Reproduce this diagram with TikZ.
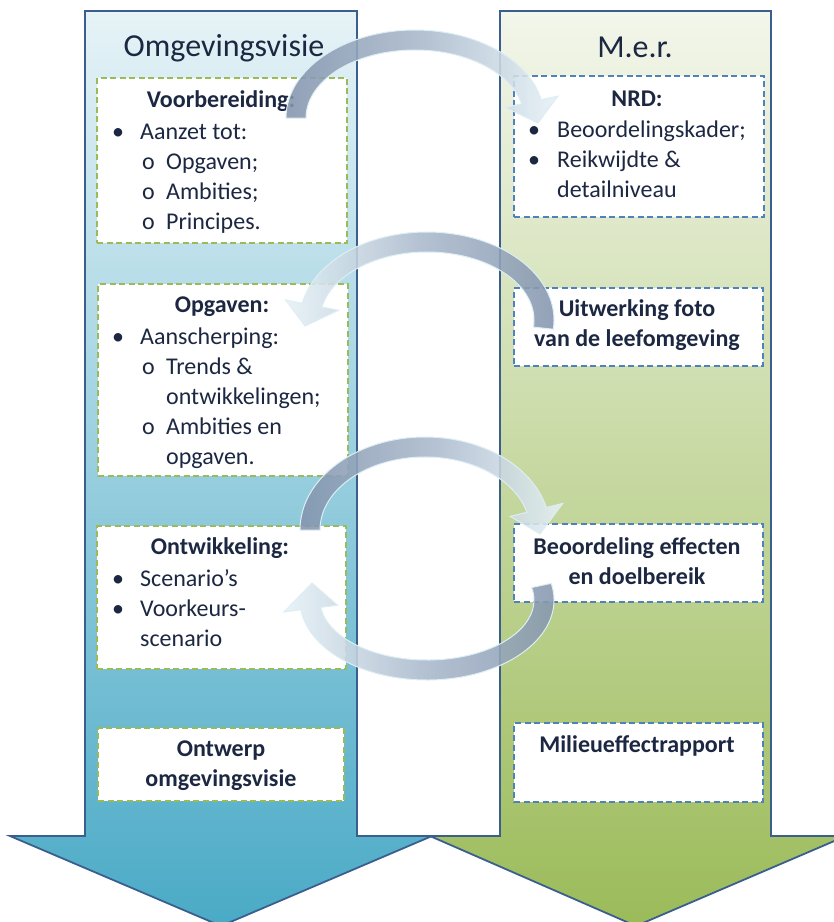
\documentclass[tikz,border=0pt]{standalone}
\usepackage{fontspec}
\setmainfont{Carlito}
\usetikzlibrary{calc}

\definecolor{tekst}{HTML}{1C2742}
\definecolor{rand}{HTML}{3A5F8E}
\definecolor{groenrand}{HTML}{9BBB59}
\definecolor{blauwrand}{HTML}{4F81BD}
\definecolor{blauwboven}{HTML}{E6F3F7}
\definecolor{blauwonder}{HTML}{4AAAC6}
\definecolor{groenboven}{HTML}{F3F6EB}
\definecolor{groenonder}{HTML}{9BBB59}
\definecolor{pijldonker}{HTML}{8394AD}
\definecolor{pijlmidden}{HTML}{A9B8CB}
\definecolor{pijllicht}{HTML}{E6F2F7}
\definecolor{pijlrand}{HTML}{DDEEF4}

\newcommand\bol{\makebox[28pt][l]{\textbullet}}
\newcommand\rondje{\hspace*{30pt}\makebox[24pt][l]{o}}

\tikzset{
  hoofdpijl/.style={draw=rand, line width=1.8pt, line join=miter},
  kader/.style={draw, fill=white, line width=2.2pt,
    dash pattern=on 6pt off 3.5pt, inner sep=0pt, anchor=north west},
  groenkader/.style={kader, draw=groenrand},
  blauwkader/.style={kader, draw=blauwrand},
  titel/.style={font=\fontsize{32}{38}\selectfont, text=tekst,
    inner sep=0pt, anchor=base},
  kop/.style={font=\fontsize{24}{30}\selectfont\bfseries, text=tekst,
    inner sep=0pt, anchor=base},
  kopblok/.style={kop, align=center, anchor=north,
    execute at begin node=\strut},
  lijst/.style={font=\fontsize{24}{30}\selectfont, text=tekst,
    align=left, inner sep=0pt, anchor=north west,
    execute at begin node=\strut},
  boog/.style={draw=pijlrand, line width=1pt, fill opacity=0.88},
  naarrechts/.style={boog, left color=pijldonker, right color=pijllicht,
    middle color=pijlmidden},
  naarlinks/.style={boog, left color=pijllicht, right color=pijldonker,
    middle color=pijlmidden}
}

\begin{document}
\begin{tikzpicture}[x=1pt,y=-1pt]

\useasboundingbox (0,0) rectangle (834,922);
\clip (0,0) rectangle (834,922);

%--------------------
% Omgevingsvisie
%--------------------
\shadedraw[hoofdpijl, top color=blauwboven, bottom color=blauwonder]
  (85,11) -- (357,11) -- (357,836) -- (432,836)
  -- (221,926) -- (10,836) -- (85,836) -- cycle;

\node[titel] (omgtitel) at (224,56) {Omgevingsvisie};

% kaders
\node[groenkader, minimum width=250pt, minimum height=165pt] (voorb) at (96,77) {};
\node[groenkader, minimum width=250pt, minimum height=192pt] (opgaven) at (97,283) {};
\node[groenkader, minimum width=249pt, minimum height=143pt] (ontw) at (96,525) {};
\node[groenkader, minimum width=246pt, minimum height=73pt] (ontwerp) at (97,727) {};

% teksten
\node[kop] (voorbkop) at (221,107) {Voorbereiding:};
\node[lijst] (voorblijst) at (112,124)
  {\bol Aanzet tot:\\ \rondje Opgaven;\\ \rondje Ambities;\\ \rondje Principes.};

\node[kop] (opgkop) at (222,312) {Opgaven:};
\node[lijst] (opglijst) at (112,328)
  {\bol Aanscherping:\\ \rondje Trends \&\\ \hspace*{54pt}ontwikkelingen;\\
   \rondje Ambities en\\ \hspace*{54pt}opgaven.};

\node[kop] (ontwkop) at (220,554) {Ontwikkeling:};
\node[lijst] (ontwlijst) at (112,569)
  {\bol Scenario’s\\ \bol Voorkeurs-\\ \hspace*{28pt}scenario};

\node[kopblok] (ontwerptekst) at (221,741) {Ontwerp\\omgevingsvisie};

%--------------------
% M.e.r.
%--------------------
\shadedraw[hoofdpijl, top color=groenboven, bottom color=groenonder]
  (500,11) -- (771,11) -- (771,836) -- (846,836)
  -- (636,926) -- (430,836) -- (500,836) -- cycle;

\node[titel] (mertitel) at (635,57) {M.e.r.};

% kaders
\node[blauwkader, minimum width=250pt, minimum height=141pt] (nrd) at (513,75) {};
\node[blauwkader, minimum width=249pt, minimum height=78pt] (foto) at (513,287) {};
\node[blauwkader, minimum width=249pt, minimum height=78pt] (beoord) at (513,523) {};
\node[blauwkader, minimum width=249pt, minimum height=79pt] (mer) at (513,722) {};

% teksten
\node[kop] (nrdkop) at (637,106) {NRD:};
\node[lijst] (nrdlijst) at (528,121)
  {\makebox[29pt][l]{\textbullet}Beoordelingskader;\\
   \makebox[29pt][l]{\textbullet}Reikwijdte \&\\ \hspace*{29pt}detailniveau};

\node[kopblok] (fototekst) at (637,299) {Uitwerking foto\\van de leefomgeving};
\node[kopblok] (beoordtekst) at (637,537) {Beoordeling effecten\\en doelbereik};
\node[kop] (mertekst) at (637,752) {Milieueffectrapport};

%--------------------
% Bogen tussen beide sporen
%--------------------
% voorbereiding -> NRD
\begin{scope}[shift={(415,118)}]
  \shadedraw[naarrechts]
    (180:129 and 88) arc[start angle=180, end angle=348, x radius=129, y radius=88]
    -- (348:146 and 105) -- (123,5) -- (348:92 and 51) -- (348:109 and 68)
    arc[start angle=348, end angle=180, x radius=109, y radius=68] -- cycle;
\end{scope}

% foto leefomgeving -> opgaven
\begin{scope}[shift={(427,320)}]
  \shadedraw[naarlinks]
    (6:127 and 88) arc[start angle=6, end angle=-169, x radius=127, y radius=88]
    -- (-169:144 and 105) -- (-122,6) -- (-169:90 and 51) -- (-169:107 and 68)
    arc[start angle=-169, end angle=6, x radius=107, y radius=68] -- cycle;
\end{scope}

% ontwikkeling -> beoordeling
\begin{scope}[shift={(425,530)}]
  \shadedraw[naarrechts]
    (180:125 and 93) arc[start angle=180, end angle=346, x radius=125, y radius=93]
    -- (346:142 and 110) -- (115,4) -- (346:88 and 56) -- (346:105 and 73)
    arc[start angle=346, end angle=180, x radius=105, y radius=73] -- cycle;
\end{scope}

% beoordeling -> ontwikkeling
\begin{scope}[shift={(427,600)}]
  \shadedraw[naarlinks]
    (-12:127 and 80) arc[start angle=-12, end angle=173, x radius=127, y radius=80]
    -- (173:144 and 97) -- (-115,-17) -- (173:90 and 43) -- (173:107 and 60)
    arc[start angle=173, end angle=-12, x radius=107, y radius=60] -- cycle;
\end{scope}

\end{tikzpicture}
\end{document}
